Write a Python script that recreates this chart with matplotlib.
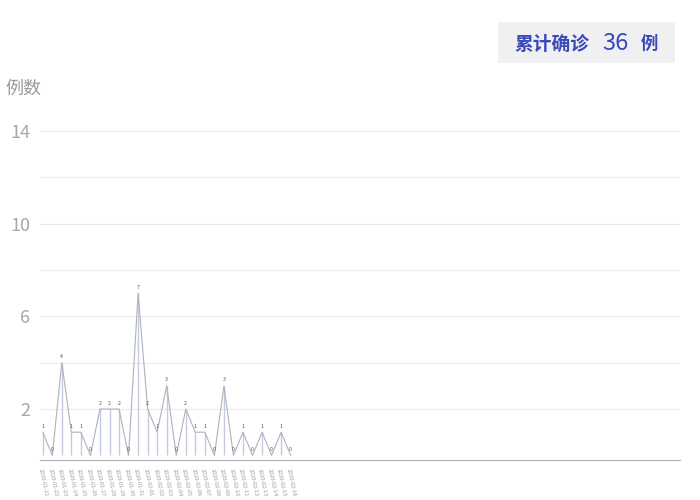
import matplotlib.pyplot as plt

plt.rcParams['font.family'] = ['Noto Sans CJK SC', 'DejaVu Sans']

dates = ['2020-01-21', '2020-01-22', '2020-01-23', '2020-01-24', '2020-01-25',
         '2020-01-26', '2020-01-27', '2020-01-28', '2020-01-29', '2020-01-30',
         '2020-01-31', '2020-02-01', '2020-02-02', '2020-02-03', '2020-02-04',
         '2020-02-05', '2020-02-06', '2020-02-07', '2020-02-08', '2020-02-09',
         '2020-02-10', '2020-02-11', '2020-02-12', '2020-02-13', '2020-02-14',
         '2020-02-15', '2020-02-16']
cases = [1, 0, 4, 1, 1, 0, 2, 2, 2, 0, 7, 2, 1, 3, 0, 2, 1, 1, 0, 3, 0, 1, 0, 1, 0, 1, 0]
yticks = [2, 6, 10, 14]
total = sum(cases)

fig = plt.figure(figsize=(7, 5), dpi=100)
ax = fig.add_axes([0.057, 0.08, 0.914, 0.681])

x = list(range(len(cases)))
ax.vlines(x, 0, cases, color='#c3cbe3', lw=1.0, zorder=2)
ax.plot(x, cases, color='#b0b2bc', lw=0.8, zorder=3)
for xi, v in zip(x, cases):
    ax.text(xi, v + 0.15, str(v), ha='center', va='bottom', fontsize=3.8, color='#555555')

ax.set_xlim(-0.3, 66.8)
ax.set_ylim(-0.2, 14.5)
for g in range(2, 15, 2):
    ax.axhline(g, color='#ebebeb', lw=0.8, zorder=0)
ax.set_yticks(yticks)
ax.set_yticklabels([str(t) for t in yticks])
ax.tick_params(axis='y', length=0, labelsize=13, labelcolor='#a8a8a8', pad=7)
ax.set_xticks(x)
ax.set_xticklabels(dates, rotation=-78, fontsize=4, color='#9a9a9a', ha='left',
                   rotation_mode='anchor')
ax.tick_params(axis='x', length=0, pad=6)

for s in ['top', 'right', 'left']:
    ax.spines[s].set_visible(False)
ax.spines['bottom'].set_color('#b0b0b0')
ax.spines['bottom'].set_linewidth(0.8)

fig.text(0.007, 0.823, '例数', fontsize=13, color='#9a9a9a', va='center')

fig.patches.append(plt.Rectangle((0.711, 0.874), 0.253, 0.082, transform=fig.transFigure,
                                 facecolor='#f0f0f3', edgecolor='none'))
fig.text(0.735, 0.912, '累计确诊', fontsize=13.5, color='#3a48b8', fontweight='bold', va='center')
fig.text(0.861, 0.914, str(total), fontsize=17, color='#3a48b8', va='center')
fig.text(0.916, 0.912, '例', fontsize=12.5, color='#3a48b8', fontweight='bold', va='center')

fig.savefig('out.png', dpi=100)
